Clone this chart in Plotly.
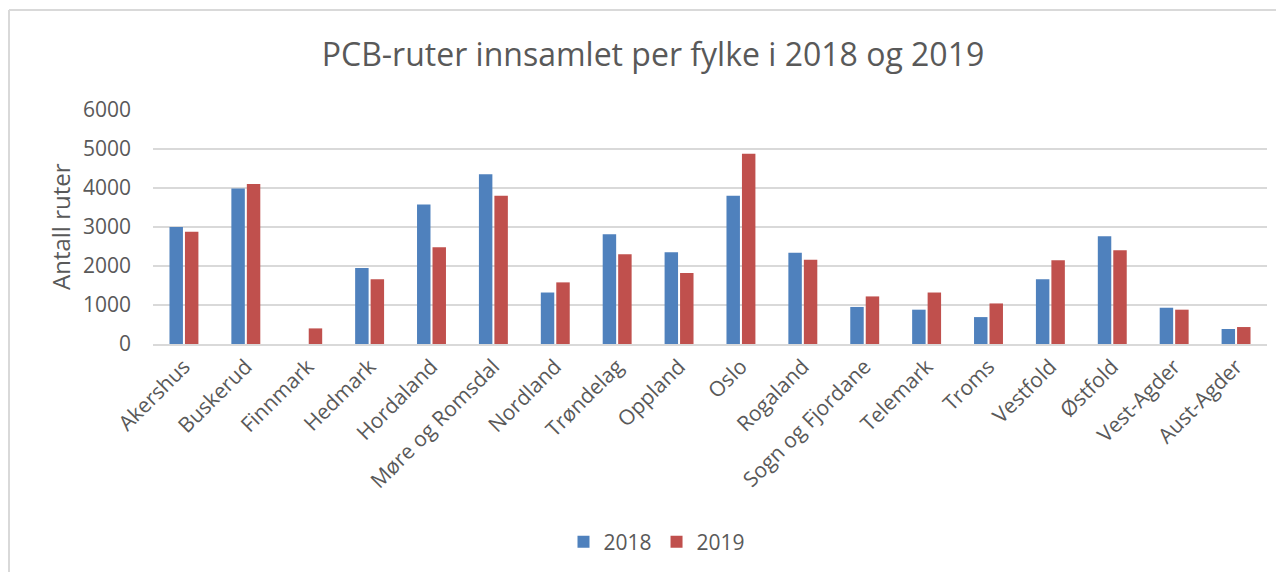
import plotly.graph_objects as go

categories = ["Akershus", "Buskerud", "Finnmark", "Hedmark", "Hordaland", "Møre og Romsdal",
              "Nordland", "Trøndelag", "Oppland", "Oslo", "Rogaland", "Sogn og Fjordane",
              "Telemark", "Troms", "Vestfold", "Østfold", "Vest-Agder", "Aust-Agder"]
values_2018 = [3000, 3990, 0, 1950, 3580, 4350, 1320, 2815, 2350, 3800, 2340, 950,
               880, 690, 1660, 2765, 930, 385]
values_2019 = [2880, 4100, 400, 1660, 2480, 3800, 1580, 2300, 1820, 4880, 2160, 1220,
               1320, 1040, 2150, 2405, 880, 435]
series_names = ["2018", "2019"]
title_text = "PCB-ruter innsamlet per fylke i 2018 og 2019"
y_title = "Antall ruter"

OFF = 8  # page body margin
W, H = 1284 - OFF, 572 - OFF
# target plot area in screenshot pixels: x 153..1267, y 110..344
L, R, T, B = 153 - OFF, 1284 - 1267, 110 - OFF, 572 - 344
pw, ph = W - L - R, H - T - B

def px_x(x):
    return (x - OFF - L) / pw

def px_y(y):
    return (H - B - (y - OFF)) / ph

FONT = "Open Sans"
TXT = "#595959"
GRID = "#D9D9D9"

fig = go.Figure()
fig.add_trace(go.Bar(x=categories, y=values_2018, name=series_names[0],
                     marker=dict(color="#4F81BD", line=dict(width=0))))
fig.add_trace(go.Bar(x=categories, y=values_2019, name=series_names[1],
                     marker=dict(color="#C0504D", line=dict(width=0))))

fig.update_layout(
    width=W, height=H,
    margin=dict(l=L, r=R, t=T, b=B, autoexpand=False),
    paper_bgcolor="white", plot_bgcolor="white",
    font=dict(family=FONT, color=TXT, size=21),
    barmode="group", bargap=0.5, bargroupgap=0.13,
    title=dict(text=title_text, x=(653 - OFF) / W, xref="container", xanchor="center",
               y=1 - (55 - OFF) / H, yref="container", yanchor="middle",
               font=dict(family=FONT, size=32, color=TXT)),
    showlegend=True,
    legend=dict(orientation="h", x=px_x(657), y=px_y(542), xanchor="center", yanchor="middle",
                font=dict(size=21, color=TXT), itemwidth=30, traceorder="normal"),
    xaxis=dict(tickangle=-45, showgrid=False, showline=True, linecolor=GRID, linewidth=2,
               ticks="", tickfont=dict(size=21, color=TXT)),
    yaxis=dict(range=[0, 6000], dtick=1000, showgrid=True, gridcolor=GRID, gridwidth=2,
               zeroline=False, showline=False, ticks="", ticklabelstandoff=21,
               tickfont=dict(size=21, color=TXT)),
    annotations=[dict(text=y_title, x=px_x(60), y=0.5, xref="paper", yref="paper",
                      textangle=-90, showarrow=False, xanchor="center", yanchor="middle",
                      font=dict(size=24, color=TXT))],
    shapes=[
        dict(type="line", xref="paper", yref="paper", x0=px_x(9), x1=px_x(1300),
             y0=px_y(10), y1=px_y(10), line=dict(color=GRID, width=2)),
        dict(type="line", xref="paper", yref="paper", x0=px_x(9), x1=px_x(9),
             y0=px_y(10), y1=px_y(600), line=dict(color=GRID, width=2)),
    ],
)

fig.write_html("out.html")
